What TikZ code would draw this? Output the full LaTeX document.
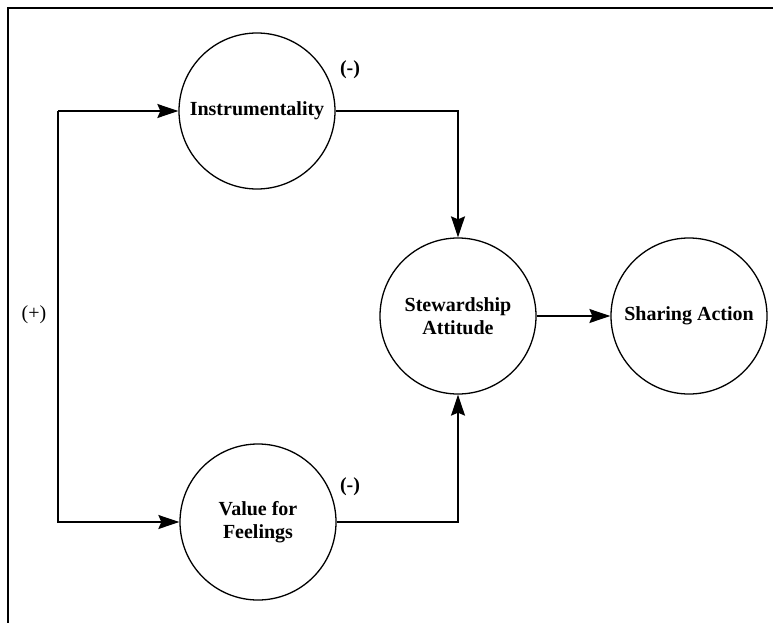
\documentclass[tikz,border=0pt]{standalone}
\usepackage{fontspec}
\setmainfont{Liberation Serif}
\usepackage{tikz}
\usetikzlibrary{arrows.meta,positioning}
\tikzset{
  circ/.style={draw, line width=1.3pt, circle, minimum size=156pt, inner sep=0pt,
    align=center, font=\fontsize{20}{23}\selectfont\bfseries},
  arr/.style={line width=1.3pt, -{Stealth[length=21pt,width=14pt,inset=3pt]}},
  sign/.style={font=\fontsize{20}{23}\selectfont}
}
\begin{document}
\begin{tikzpicture}[x=1pt,y=-1pt]
    \useasboundingbox (0,0) rectangle (773,623);
    % frame
    \draw[line width=1.3pt] (773,8) -- (8,8) -- (8,623);
    % constructs
    \node[circ] (instr) at (257,111) {Instrumentality};
    \node[circ] (value) at (258,522) {Value for\\Feelings};
    \node[circ] (stew) at (458,316) {Stewardship\\Attitude};
    \node[circ] (share) at (689,316) {Sharing Action};
    % split point on the left
    \coordinate (split) at (58,111);
    \draw[line width=1.3pt] (split) -- (58,522);
    \draw[arr] (split) -- (instr);
    \draw[arr] (split) |- (value);
    % paths into the attitude
    \draw[arr] (instr) -| (stew);
    \draw[arr] (value) -| (stew);
    \draw[arr] (stew) -- (share);
    % signs
    \node[sign] (plus) at (34,315) {(+)};
    \node[sign, font=\fontsize{20}{23}\selectfont\bfseries] (minus1) at (350,70) {(-)};
    \node[sign, font=\fontsize{20}{23}\selectfont\bfseries] (minus2) at (350,487) {(-)};
\end{tikzpicture}
\end{document}
